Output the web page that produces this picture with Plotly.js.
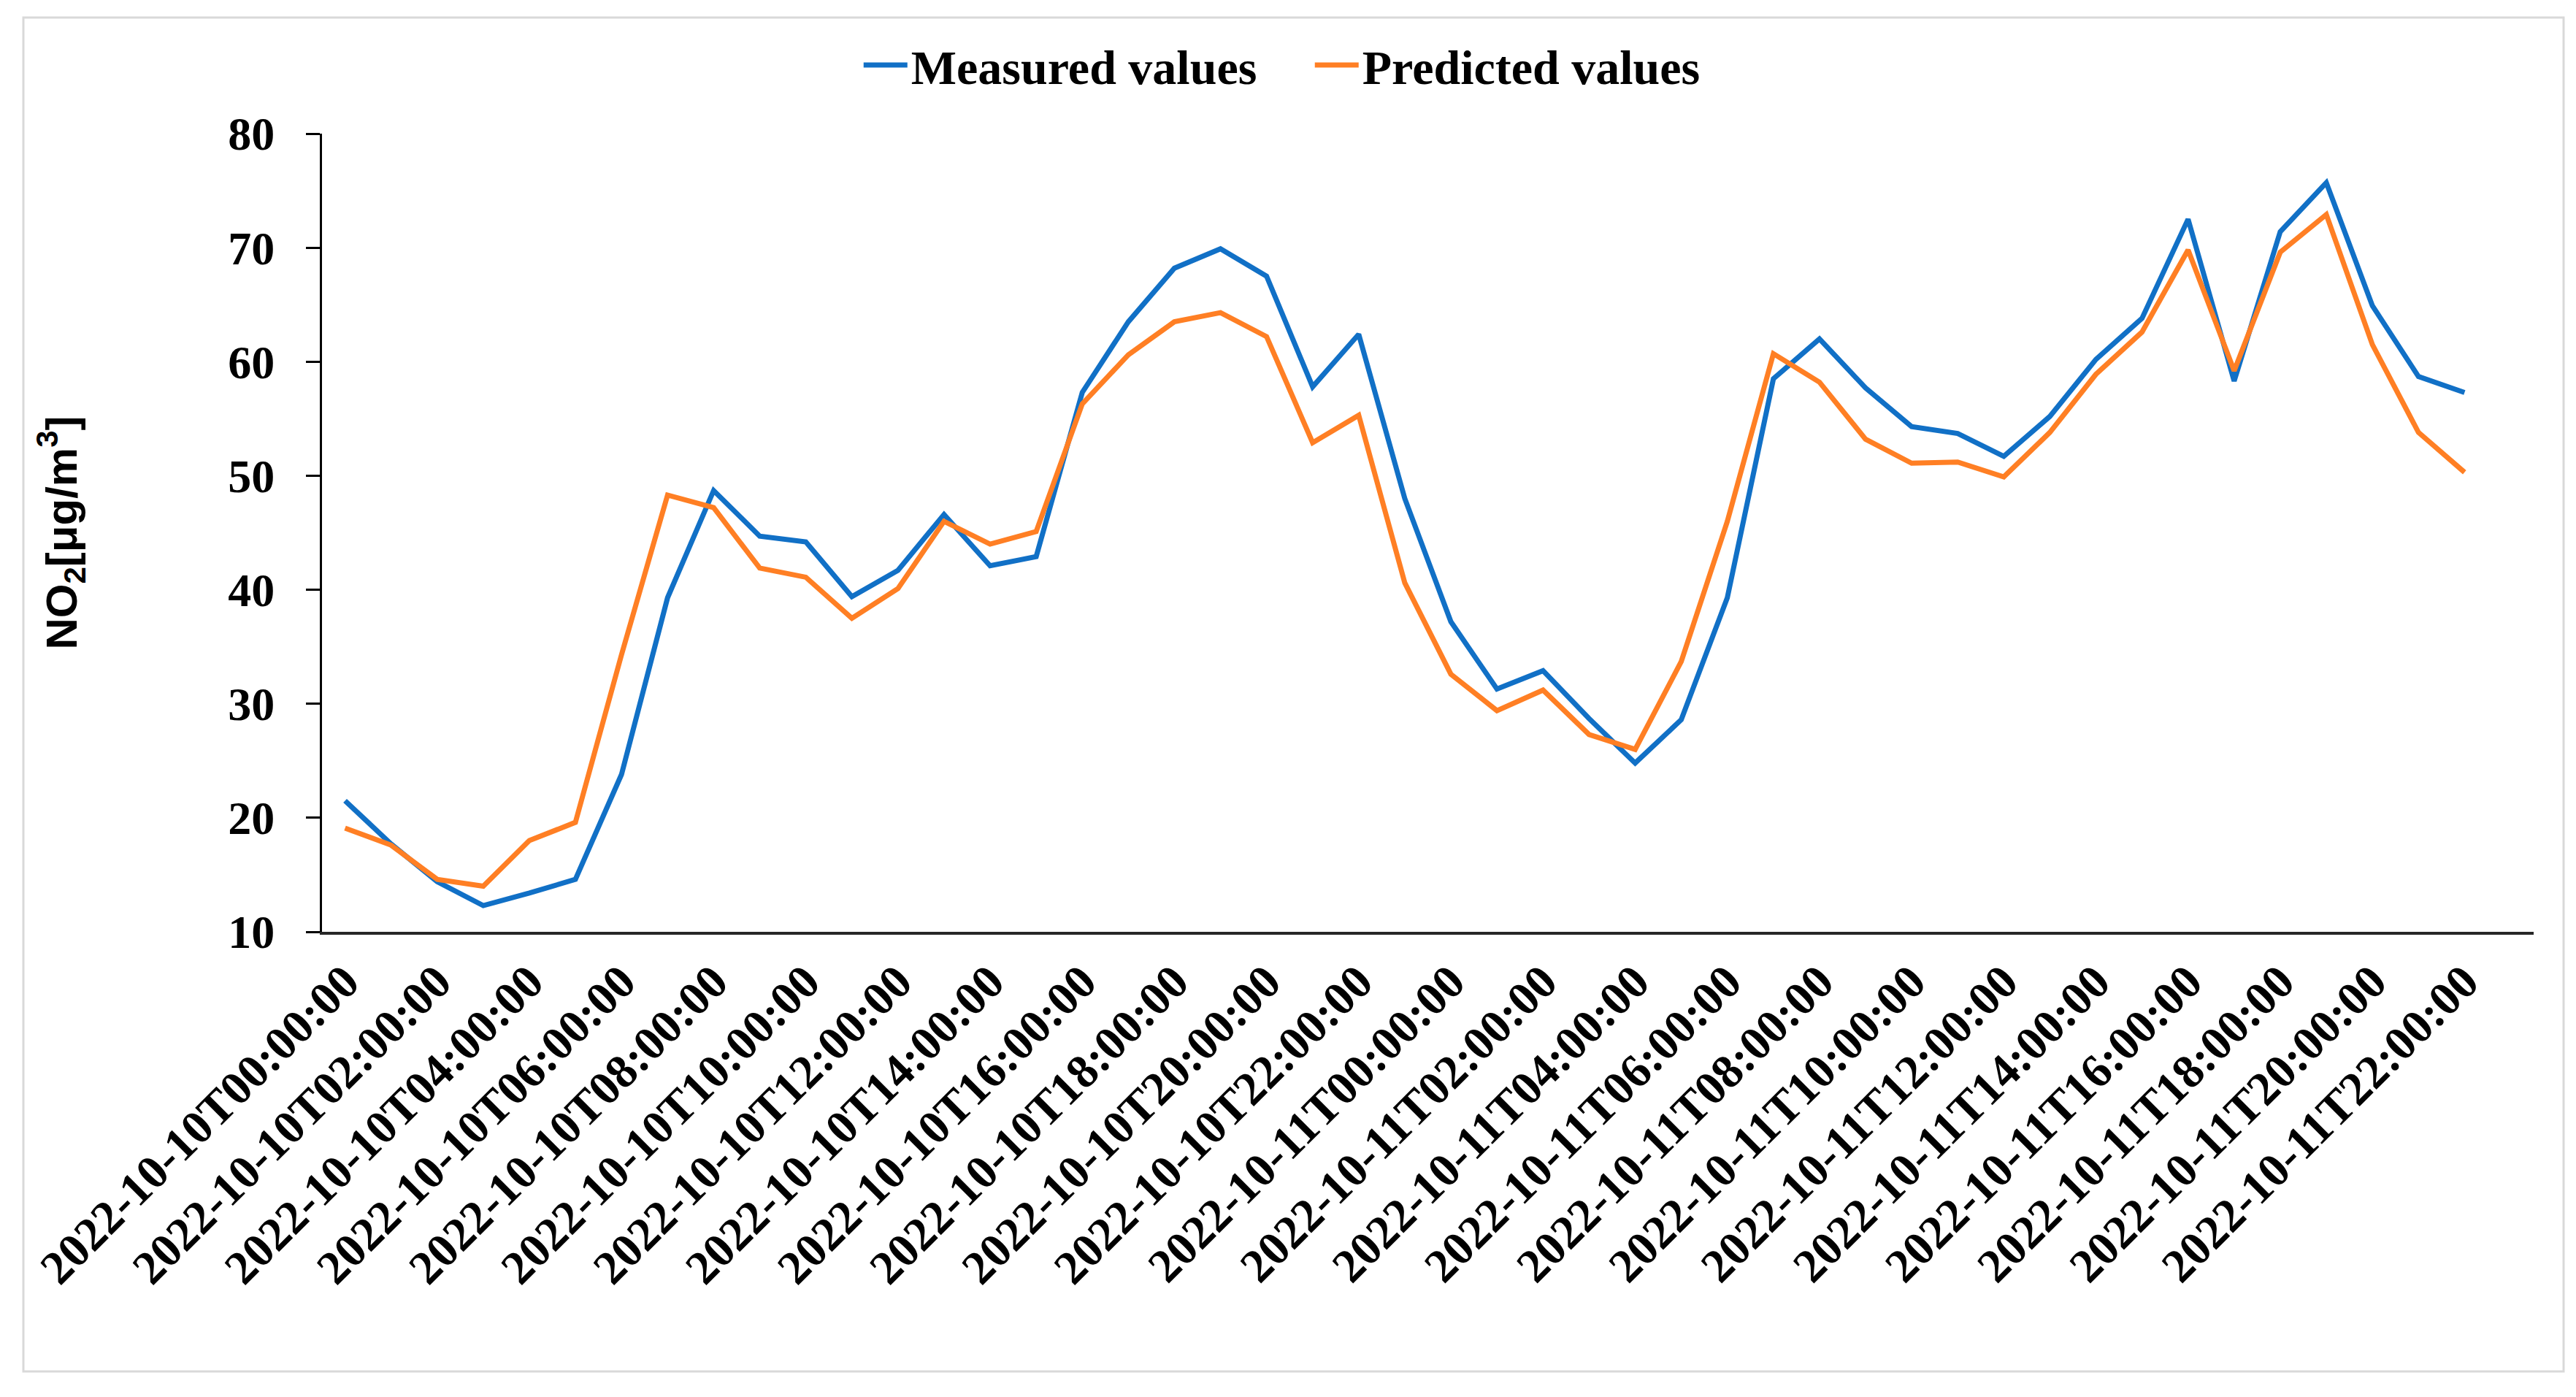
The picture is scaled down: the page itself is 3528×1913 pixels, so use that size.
<!DOCTYPE html>
<html>
<head>
<meta charset="utf-8">
<script src="https://cdn.plot.ly/plotly-3.0.1.min.js"></script>
<style>
  html, body { margin: 0; padding: 0; background: #ffffff; }
  #chart { width: 3528px; height: 1913px; }
</style>
</head>
<body>
<div id="chart"></div>
<script>
const categories = [
  "2022-10-10T00:00:00","2022-10-10T01:00:00","2022-10-10T02:00:00","2022-10-10T03:00:00",
  "2022-10-10T04:00:00","2022-10-10T05:00:00","2022-10-10T06:00:00","2022-10-10T07:00:00",
  "2022-10-10T08:00:00","2022-10-10T09:00:00","2022-10-10T10:00:00","2022-10-10T11:00:00",
  "2022-10-10T12:00:00","2022-10-10T13:00:00","2022-10-10T14:00:00","2022-10-10T15:00:00",
  "2022-10-10T16:00:00","2022-10-10T17:00:00","2022-10-10T18:00:00","2022-10-10T19:00:00",
  "2022-10-10T20:00:00","2022-10-10T21:00:00","2022-10-10T22:00:00","2022-10-10T23:00:00",
  "2022-10-11T00:00:00","2022-10-11T01:00:00","2022-10-11T02:00:00","2022-10-11T03:00:00",
  "2022-10-11T04:00:00","2022-10-11T05:00:00","2022-10-11T06:00:00","2022-10-11T07:00:00",
  "2022-10-11T08:00:00","2022-10-11T09:00:00","2022-10-11T10:00:00","2022-10-11T11:00:00",
  "2022-10-11T12:00:00","2022-10-11T13:00:00","2022-10-11T14:00:00","2022-10-11T15:00:00",
  "2022-10-11T16:00:00","2022-10-11T17:00:00","2022-10-11T18:00:00","2022-10-11T19:00:00",
  "2022-10-11T20:00:00","2022-10-11T21:00:00","2022-10-11T22:00:00"
];

const measured = [
  21.5, 17.7, 14.4, 12.3, 13.4, 14.6, 23.8, 39.3, 48.7, 44.7, 44.2, 39.4,
  41.7, 46.6, 42.1, 42.9, 57.3, 63.5, 68.2, 69.9, 67.5, 57.8, 62.4, 48.0,
  37.2, 31.3, 32.9, 28.7, 24.8, 28.6, 39.3, 58.5, 62.0, 57.7, 54.3, 53.7,
  51.7, 55.2, 60.2, 63.8, 72.5, 58.3, 71.4, 75.7, 64.9, 58.7, 57.3
];

const predicted = [
  19.1, 17.6, 14.6, 14.0, 18.0, 19.6, 34.3, 48.3, 47.2, 41.9, 41.1, 37.5,
  40.1, 46.0, 44.0, 45.1, 56.3, 60.6, 63.5, 64.3, 62.2, 52.9, 55.3, 40.6,
  32.6, 29.4, 31.2, 27.3, 26.0, 33.7, 46.0, 60.7, 58.2, 53.2, 51.1, 51.2,
  49.9, 53.8, 58.9, 62.6, 69.8, 59.2, 69.6, 72.9, 61.5, 53.8, 50.3
];

const tickLabels = [
  "2022-10-10T00:00:00","2022-10-10T02:00:00","2022-10-10T04:00:00","2022-10-10T06:00:00",
  "2022-10-10T08:00:00","2022-10-10T10:00:00","2022-10-10T12:00:00","2022-10-10T14:00:00",
  "2022-10-10T16:00:00","2022-10-10T18:00:00","2022-10-10T20:00:00","2022-10-10T22:00:00",
  "2022-10-11T00:00:00","2022-10-11T02:00:00","2022-10-11T04:00:00","2022-10-11T06:00:00",
  "2022-10-11T08:00:00","2022-10-11T10:00:00","2022-10-11T12:00:00","2022-10-11T14:00:00",
  "2022-10-11T16:00:00","2022-10-11T18:00:00","2022-10-11T20:00:00","2022-10-11T22:00:00"
];

const yTicks = [10, 20, 30, 40, 50, 60, 70, 80];

const serif = "Liberation Serif, Times New Roman, serif";
const sans = "Liberation Sans, Arial, sans-serif";

const traces = [
  {
    x: categories, y: measured, type: "scatter", mode: "lines",
    name: "Measured values",
    line: { color: "#1170C6", width: 7 }
  },
  {
    x: categories, y: predicted, type: "scatter", mode: "lines",
    name: "Predicted values",
    line: { color: "#FF7F24", width: 7 }
  }
];

const W = 3528, H = 1913;
const L = 441, R = 3470, T = 183, B = 1276;
const pw = R - L, ph = B - T;
const px = v => (v - L) / pw;
const py = v => (B - v) / ph;

const layout = {
  width: W, height: H,
  margin: { l: L, r: W - R, t: T, b: H - B, pad: 0 },
  paper_bgcolor: "#ffffff",
  plot_bgcolor: "#ffffff",
  showlegend: true,
  legend: {
    orientation: "h",
    xref: "container", yref: "container",
    x: 0.509, xanchor: "center",
    y: 1 - 89 / H, yanchor: "middle",
    font: { family: serif, size: 66, color: "#000000", weight: "bold" },
    itemwidth: 60,
    entrywidth: 543,
    tracegroupgap: 0,
    bgcolor: "rgba(0,0,0,0)"
  },
  xaxis: {
    type: "category",
    range: [-0.5, 47.5],
    tickmode: "array",
    tickvals: tickLabels,
    ticktext: tickLabels,
    tickangle: -45,
    ticks: "",
    showgrid: false,
    zeroline: false,
    showline: true,
    linecolor: "#262626",
    linewidth: 4,
    tickfont: { family: serif, size: 65, color: "#000000", weight: "bold" },
    automargin: false
  },
  yaxis: {
    range: [10, 80],
    tickmode: "array",
    tickvals: yTicks,
    ticktext: yTicks.map(String),
    ticks: "outside",
    ticklen: 19,
    tickwidth: 3,
    tickcolor: "#000000",
    showgrid: false,
    zeroline: false,
    showline: true,
    linecolor: "#000000",
    linewidth: 3,
    ticklabelstandoff: 30,
    tickfont: { family: serif, size: 64, color: "#000000", weight: "bold" },
    title: {
      text: "NO<sub>2</sub>[μg/m<sup>3</sup>]",
      font: { family: sans, size: 60, color: "#000000", weight: "bold" },
      standoff: 188
    },
    automargin: false
  },
  shapes: [
    {
      type: "rect", xref: "paper", yref: "paper",
      x0: px(32), x1: px(3511), y0: py(1878), y1: py(24),
      line: { color: "#D9D9D9", width: 3 },
      fillcolor: "rgba(0,0,0,0)",
      layer: "below"
    }
  ]
};

Plotly.newPlot("chart", traces, layout, { displayModeBar: false, staticPlot: true });
</script>
</body>
</html>
